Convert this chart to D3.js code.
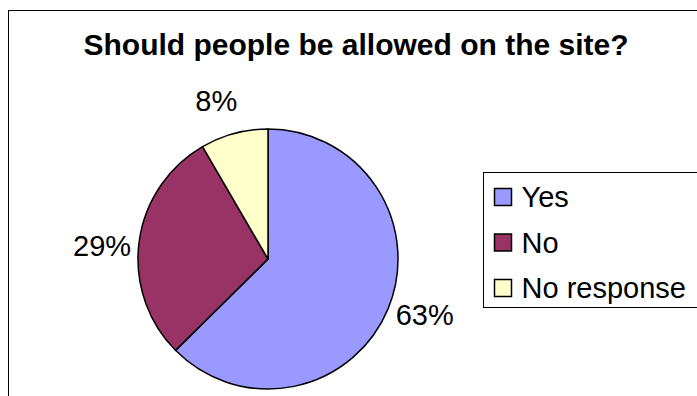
<!DOCTYPE html>
<html>
<head>
<meta charset="utf-8">
<script src="https://cdn.jsdelivr.net/npm/d3@7"></script>
<style>
  html, body { margin: 0; padding: 0; background: #fff; }
  svg { display: block; font-family: Arial, "Liberation Sans", sans-serif; }
</style>
</head>
<body>
<div id="chart"></div>
<script>
// values (labels show rounded percents)
var categories = ['Yes', 'No', 'No response'];
var values     = [62.6, 29.0, 8.4];
var colors     = ['#9999FF', '#993366', '#FFFFCC'];

var width = 697, height = 396;
var cx = 268, cy = 259, radius = 130;

var svg = d3.select('#chart')
  .append('svg')
  .attr('width', width)
  .attr('height', height);

// chart frame (runs off the right and bottom edges)
svg.append('rect')
  .attr('x', 8.5).attr('y', 10.5)
  .attr('width', 696).attr('height', 400)
  .attr('fill', '#fff')
  .attr('stroke', '#000')
  .attr('stroke-width', 1);

svg.append('text')
  .attr('x', 356)
  .attr('y', 55)
  .attr('text-anchor', 'middle')
  .attr('font-size', 30)
  .attr('font-weight', 'bold')
  .text('Should people be allowed on the site?');

var pie = d3.pie().sort(null).value(d => d);
var arcs = pie(values);
var total = d3.sum(values);

var arc = d3.arc().innerRadius(0).outerRadius(radius);

// labels sit a bit counter-clockwise of the bisector, like the original
var labelR = radius * 1.28, shift = 3 * Math.PI / 180;
function labelPos(d) {
  var a = (d.startAngle + d.endAngle) / 2 - shift;
  return [Math.sin(a) * labelR, -Math.cos(a) * labelR];
}

var g = svg.append('g').attr('transform', `translate(${cx},${cy})`);

g.selectAll('path')
  .data(arcs)
  .enter()
  .append('path')
  .attr('d', arc)
  .attr('fill', (d, i) => colors[i])
  .attr('stroke', '#000')
  .attr('stroke-width', 1.5)
  .attr('stroke-linejoin', 'round');

g.selectAll('text.label')
  .data(arcs)
  .enter()
  .append('text')
  .attr('class', 'label')
  .attr('x', d => labelPos(d)[0])
  .attr('y', d => labelPos(d)[1])
  .attr('text-anchor', 'middle')
  .attr('dy', '0.36em')
  .attr('font-size', 29)
  .text(d => Math.round(d.value / total * 100) + '%');

// legend
var legend = svg.append('g').attr('transform', 'translate(483.5,172.5)');
legend.append('rect')
  .attr('width', 240).attr('height', 135)
  .attr('fill', '#fff')
  .attr('stroke', '#000')
  .attr('stroke-width', 1);

var rowY = d3.scalePoint().domain(categories).range([24.5, 115.5]);

var rows = legend.selectAll('g.row')
  .data(categories)
  .enter()
  .append('g')
  .attr('class', 'row')
  .attr('transform', d => `translate(0,${rowY(d)})`);

rows.append('rect')
  .attr('x', 11).attr('y', -8.5)
  .attr('width', 17).attr('height', 17)
  .attr('fill', (d, i) => colors[i])
  .attr('stroke', '#000')
  .attr('stroke-width', 1.5);

rows.append('text')
  .attr('x', 38)
  .attr('dy', '0.36em')
  .attr('font-size', 29)
  .text(d => d);
</script>
</body>
</html>
